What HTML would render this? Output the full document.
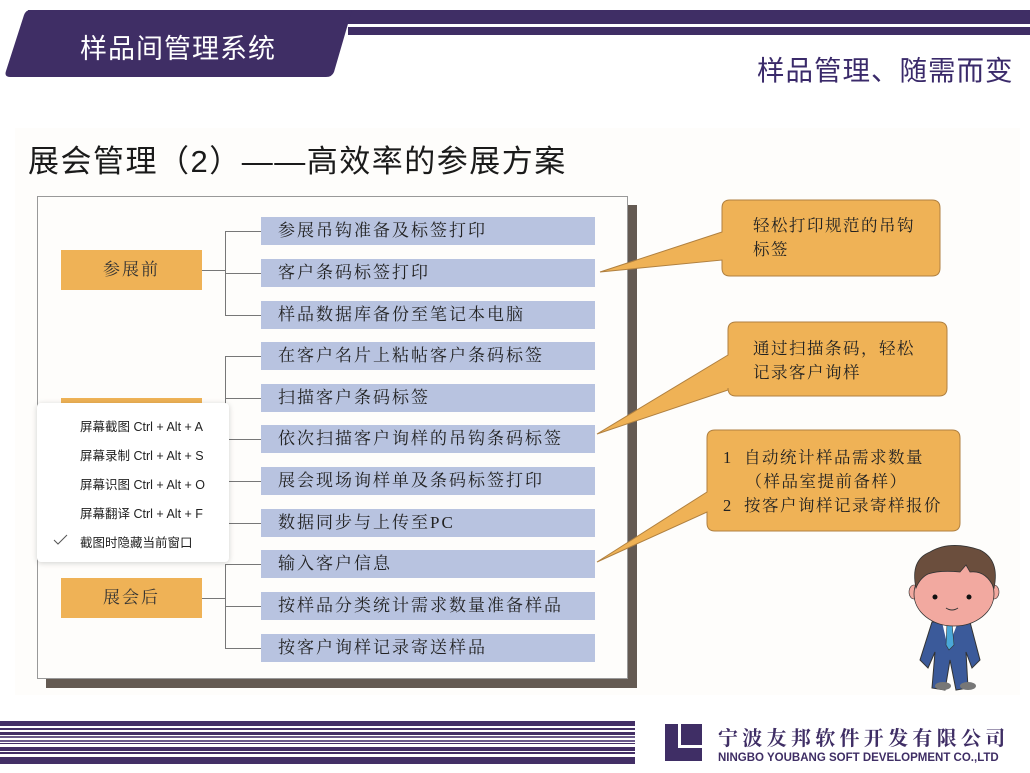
<!DOCTYPE html>
<html><head><meta charset="utf-8"><style>
*{margin:0;padding:0;box-sizing:border-box}
body{width:1030px;height:773px;position:relative;background:#fff;overflow:hidden;font-family:"Liberation Serif","Noto Serif CJK SC",serif}
.a{position:absolute;white-space:nowrap}
.sans{font-family:"Liberation Sans","Noto Sans CJK SC",sans-serif}
.blue{position:absolute;left:261px;width:334px;height:28px;background:#b8c3e0;font-size:17px;line-height:28px;padding-left:17px;letter-spacing:2px;color:#222;white-space:nowrap}
.org{position:absolute;left:61px;width:141px;height:40px;background:#efb256;font-size:17px;line-height:40px;text-align:center;letter-spacing:2px;color:#333}
.ln{position:absolute;background:#777}
.mi{position:absolute;left:80px;font-size:12.5px;color:#222;font-family:"Liberation Sans","Noto Sans CJK SC",sans-serif;white-space:nowrap}
.ct{font-size:16.5px;color:#222;letter-spacing:1.5px;line-height:24px}
.st{position:absolute;left:0;width:635px;background:#432f66}
</style></head><body>
<!-- header -->
<svg class="a" style="left:0;top:0" width="1030" height="80">
<rect x="28" y="10" width="1002" height="14" fill="#3f2e65"/>
<rect x="348" y="27" width="682" height="8" fill="#3f2e65"/>
<path d="M30,10 H352 L334,72 Q332,77 326,77 H10 Q4,77 6,71 L24,15 Q26,10 30,10 Z" fill="#3f2e65"/>
</svg>
<div class="a sans" style="left:80px;top:27px;font-size:27px;color:#fff;letter-spacing:1px">样品间管理系统</div>
<div class="a sans" style="left:757px;top:48px;font-size:27.5px;color:#3a2a6a;letter-spacing:1px">样品管理、随需而变</div>
<!-- content bg -->
<div class="a" style="left:15px;top:128px;width:1005px;height:567px;background:#fefdfb"></div>
<div class="a sans" style="left:28px;top:136px;font-size:31px;color:#1a1a1a;letter-spacing:1.5px">展会管理（2）——高效率的参展方案</div>
<!-- main box -->
<div class="a" style="left:46px;top:205px;width:591px;height:483px;background:#645a52"></div>
<div class="a" style="left:37px;top:196px;width:591px;height:483px;background:#fefdfb;border:1.5px solid #999"></div>
<div class="org" style="top:250px">参展前</div>
<div class="org" style="top:398px">展会现场</div>
<div class="org" style="top:578px">展会后</div>
<!-- connectors -->
<div class="ln" style="left:225px;top:231px;width:1px;height:85px"></div>
<div class="ln" style="left:202px;top:270px;width:24px;height:1px"></div>
<div class="ln" style="left:225px;top:356px;width:1px;height:167px"></div>
<div class="ln" style="left:202px;top:418px;width:24px;height:1px"></div>
<div class="ln" style="left:225px;top:564px;width:1px;height:84px"></div>
<div class="ln" style="left:202px;top:598px;width:24px;height:1px"></div>
<div class="ln" style="left:225px;top:231px;width:36px;height:1px"></div>
<div class="ln" style="left:225px;top:273px;width:36px;height:1px"></div>
<div class="ln" style="left:225px;top:315px;width:36px;height:1px"></div>
<div class="ln" style="left:225px;top:356px;width:36px;height:1px"></div>
<div class="ln" style="left:225px;top:398px;width:36px;height:1px"></div>
<div class="ln" style="left:225px;top:439px;width:36px;height:1px"></div>
<div class="ln" style="left:225px;top:481px;width:36px;height:1px"></div>
<div class="ln" style="left:225px;top:523px;width:36px;height:1px"></div>
<div class="ln" style="left:225px;top:564px;width:36px;height:1px"></div>
<div class="ln" style="left:225px;top:606px;width:36px;height:1px"></div>
<div class="ln" style="left:225px;top:648px;width:36px;height:1px"></div>
<div class="blue" style="top:217px">参展吊钩准备及标签打印</div>
<div class="blue" style="top:259px">客户条码标签打印</div>
<div class="blue" style="top:301px">样品数据库备份至笔记本电脑</div>
<div class="blue" style="top:342px">在客户名片上粘帖客户条码标签</div>
<div class="blue" style="top:384px">扫描客户条码标签</div>
<div class="blue" style="top:425px">依次扫描客户询样的吊钩条码标签</div>
<div class="blue" style="top:467px">展会现场询样单及条码标签打印</div>
<div class="blue" style="top:509px">数据同步与上传至PC</div>
<div class="blue" style="top:550px">输入客户信息</div>
<div class="blue" style="top:592px">按样品分类统计需求数量准备样品</div>
<div class="blue" style="top:634px">按客户询样记录寄送样品</div>
<!-- popup -->
<div class="a" style="left:37px;top:403px;width:192px;height:159px;background:#fff;border-radius:4px;box-shadow:0 1px 6px rgba(0,0,0,.18)"></div>
<div class="mi" style="top:416px">屏幕截图 Ctrl + Alt + A</div>
<div class="mi" style="top:445px">屏幕录制 Ctrl + Alt + S</div>
<div class="mi" style="top:474px">屏幕识图 Ctrl + Alt + O</div>
<div class="mi" style="top:503px">屏幕翻译 Ctrl + Alt + F</div>
<div class="mi" style="top:532px">截图时隐藏当前窗口</div>
<svg class="a" style="left:52px;top:533px" width="18" height="14"><polyline points="2,7 6,11 15,2" fill="none" stroke="#555" stroke-width="1"/></svg>
<!-- callouts -->
<svg class="a" style="left:0;top:0" width="1030" height="773">
<path d="M730,200 H932 Q940,200 940,208 V268 Q940,276 932,276 H730 Q722,276 722,268 V260 L600,272 L722,232 V208 Q722,200 730,200 Z" fill="#efb256" stroke="#b08040" stroke-width="1"/>
<path d="M736,322 H939 Q947,322 947,330 V388 Q947,396 939,396 H736 Q728,396 728,388 V390 L597,434 L728,355 V330 Q728,322 736,322 Z" fill="#efb256" stroke="#b08040" stroke-width="1"/>
<path d="M715,430 H952 Q960,430 960,438 V523 Q960,531 952,531 H715 Q707,531 707,523 V512 L597,562 L707,492 V438 Q707,430 715,430 Z" fill="#efb256" stroke="#b08040" stroke-width="1"/>
</svg>
<div class="a ct" style="left:753px;top:214px">轻松打印规范的吊钩<br>标签</div>
<div class="a ct" style="left:753px;top:337px">通过扫描条码，轻松<br>记录客户询样</div>
<div class="a ct" style="left:723px;top:446px">1 &nbsp;自动统计样品需求数量<br>&nbsp;&nbsp;&nbsp;&nbsp;（样品室提前备样）<br>2 &nbsp;按客户询样记录寄样报价</div>
<!-- character -->
<svg class="a" style="left:890px;top:510px" width="120" height="190">
<path d="M42,112 L30,150 L38,158 L45,142 L42,178 L55,180 L60,150 L66,180 L78,178 L76,142 L82,158 L90,150 L80,112 Z" fill="#3b5a9a" stroke="#333" stroke-width="1"/>
<path d="M52,112 L58,138 L68,112 Z" fill="#fff"/>
<path d="M57,113 L62,113 L64,135 L59,140 L56,135 Z" fill="#4aa8d8" stroke="#333" stroke-width=".6"/>
<ellipse cx="53" cy="176" rx="8" ry="4" fill="#777"/><ellipse cx="78" cy="176" rx="8" ry="4" fill="#777"/>
<ellipse cx="24" cy="82" rx="5" ry="7" fill="#f2a9a0" stroke="#333" stroke-width=".6"/>
<ellipse cx="104" cy="82" rx="5" ry="7" fill="#f2a9a0" stroke="#333" stroke-width=".6"/>
<ellipse cx="64" cy="84" rx="40" ry="32" fill="#f2a9a0" stroke="#333" stroke-width=".8"/>
<path d="M26,78 Q20,50 40,42 Q60,30 90,40 Q110,50 104,78 Q96,60 80,62 L76,55 L70,62 Q50,60 38,64 Q30,68 26,78 Z" fill="#6b4e3d" stroke="#333" stroke-width=".8"/>
<circle cx="45" cy="87" r="2.5" fill="#111"/><circle cx="79" cy="87" r="2.5" fill="#111"/>
<path d="M56,98 Q62,102 68,98" fill="none" stroke="#333" stroke-width="1"/>
</svg>
<!-- footer stripes -->
<div class="st" style="top:721px;height:5px"></div>
<div class="st" style="top:728px;height:2px"></div>
<div class="st" style="top:732px;height:3px"></div>
<div class="st" style="top:736px;height:2px;background:#6a5a8a"></div>
<div class="st" style="top:740px;height:2px;background:#6a5a8a"></div>
<div class="st" style="top:743px;height:1px"></div>
<div class="st" style="top:747px;height:4px"></div>
<div class="st" style="top:752px;height:2px"></div>
<div class="st" style="top:757px;height:7px"></div>
<!-- logo -->
<div class="a" style="left:665px;top:724px;width:37px;height:37px;background:#3f2e65"></div>
<div class="a" style="left:678px;top:724px;width:24px;height:24px;background:#fff"></div>
<div class="a" style="left:681px;top:724px;width:21px;height:21px;background:#3f2e65"></div>
<div class="a" style="left:718px;top:722px;font-size:20px;color:#3f2e65;letter-spacing:4.3px;font-weight:bold">宁波友邦软件开发有限公司</div>
<div class="a sans" style="left:718px;top:752px;font-size:11.5px;color:#3f2e65;font-weight:bold">NINGBO YOUBANG SOFT DEVELOPMENT CO.,LTD</div>
</body></html>
